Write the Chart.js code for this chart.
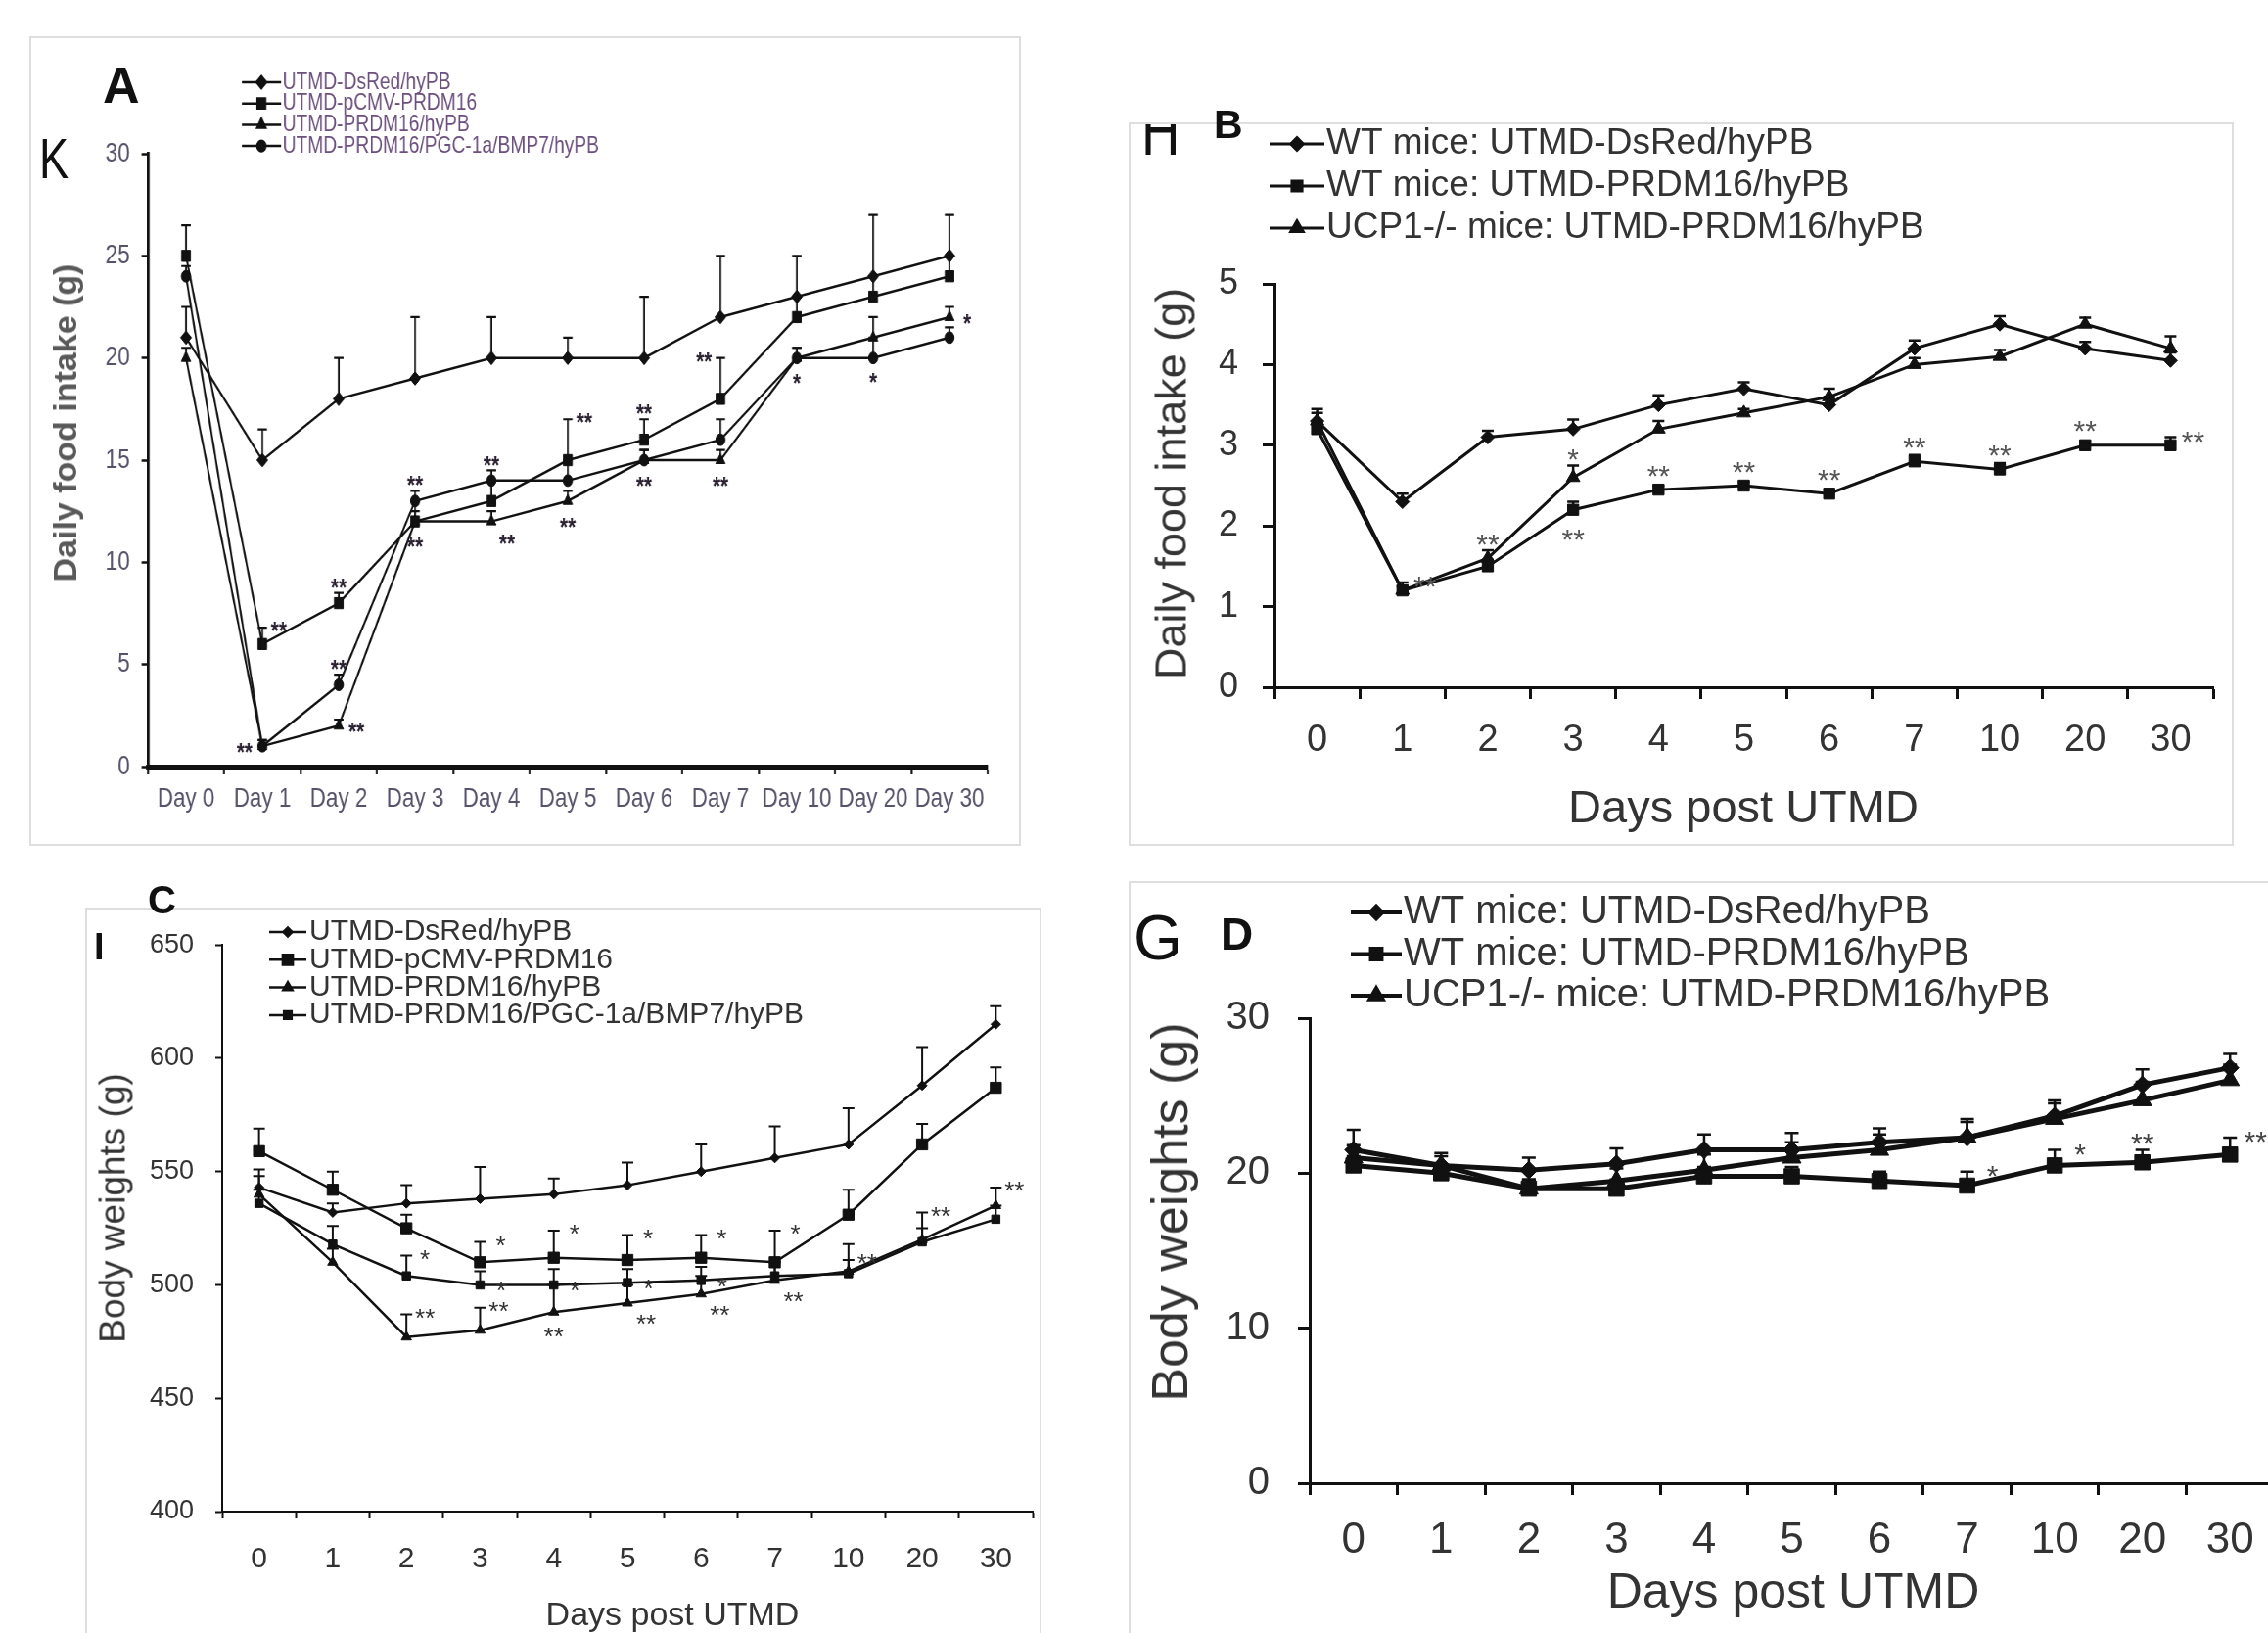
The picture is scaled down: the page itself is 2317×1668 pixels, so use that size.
<!DOCTYPE html>
<html lang="en">
<head>
<meta charset="utf-8">
<title>Daily food intake and body weights after UTMD</title>
<script src="https://cdn.jsdelivr.net/npm/chart.js@4.4.1/dist/chart.umd.min.js"></script>
<style>
  html, body { margin: 0; padding: 0; background: #fff; }
  body { position: relative; width: 2317px; height: 1668px; overflow: hidden; font-family: 'Liberation Sans', Arial, sans-serif; color: #333; }
  .box { position: absolute; border: 2px solid #dedede; box-sizing: border-box; }
  canvas { position: absolute; }
  .txt { position: absolute; white-space: nowrap; line-height: 1; color: #111; }
  .ytitle { position: absolute; white-space: nowrap; line-height: 1; transform: translate(-50%, -50%) rotate(-90deg); }
  .xtitle { position: absolute; white-space: nowrap; line-height: 1; transform: translate(-50%, -50%); }
  .clip { position: absolute; overflow: hidden; }
  .narrow { display: inline-block; transform: scaleX(0.78); transform-origin: left top; }
</style>
</head>
<body>

<!-- cadres des 4 panneaux -->
<div class="box" style="left:30px;top:37px;width:1013px;height:827px"></div>
<div class="box" style="left:1153px;top:125px;width:1129px;height:739px"></div>
<div class="box" style="left:87px;top:927px;width:977px;height:800px"></div>
<div class="box" style="left:1153px;top:900px;width:1300px;height:900px"></div>

<canvas id="chartA"></canvas>
<canvas id="chartB"></canvas>
<canvas id="chartC"></canvas>
<canvas id="chartD"></canvas>

<!-- lettres des panneaux -->
<div class="txt" style="left:105px;top:61px;font-size:52px;font-weight:bold">A</div>
<div class="txt" style="left:40px;top:133px;font-size:58px"><span class="narrow">K</span></div>
<div class="txt" style="left:1240px;top:107px;font-size:41px;font-weight:bold">B</div>
<div class="clip" style="left:1160px;top:127px;width:60px;height:40px">
  <div class="txt" style="left:6px;top:-28px;font-size:70px"><span class="narrow">H</span></div>
</div>
<div class="txt" style="left:151px;top:899px;font-size:40px;font-weight:bold">C</div>
<div class="txt" style="left:96px;top:948px;font-size:38px;font-weight:bold">I</div>
<div class="txt" style="left:1158px;top:926px;font-size:64px">G</div>
<div class="txt" style="left:1247px;top:931px;font-size:46px;font-weight:bold">D</div>

<!-- titres des axes -->
<div class="ytitle" style="left:66px;top:432px;font-size:34px;font-weight:bold;color:#595959">Daily food intake (g)</div>
<div class="ytitle" style="left:1196px;top:494px;font-size:45px;color:#333">Daily food intake (g)</div>
<div class="xtitle" style="left:1781px;top:823px;font-size:47px;color:#333">Days post UTMD</div>
<div class="ytitle" style="left:115px;top:1234px;font-size:37px;color:#333">Body weights (g)</div>
<div class="xtitle" style="left:687px;top:1648px;font-size:34px;color:#333">Days post UTMD</div>
<div class="ytitle" style="left:1195px;top:1238px;font-size:52px;color:#333">Body weights (g)</div>
<div class="xtitle" style="left:1832px;top:1625px;font-size:50px;color:#333">Days post UTMD</div>

<script>
// Catégories (jours)
const daysA = ['Day 0', 'Day 1', 'Day 2', 'Day 3', 'Day 4', 'Day 5', 'Day 6', 'Day 7', 'Day 10', 'Day 20', 'Day 30'];
const days = ['0', '1', '2', '3', '4', '5', '6', '7', '10', '20', '30'];

// Graduations des axes Y
const foodTicksA = [0, 5, 10, 15, 20, 25, 30];
const foodTicksB = [0, 1, 2, 3, 4, 5];
const weightTicksC = [400, 450, 500, 550, 600, 650];
const weightTicksD = [0, 10, 20, 30];

// Légendes
const namesRat = ['UTMD-DsRed/hyPB', 'UTMD-pCMV-PRDM16', 'UTMD-PRDM16/hyPB', 'UTMD-PRDM16/PGC-1a/BMP7/hyPB'];
const namesMice = ['WT mice: UTMD-DsRed/hyPB', 'WT mice: UTMD-PRDM16/hyPB', 'UCP1-/- mice: UTMD-PRDM16/hyPB'];

// A : prise alimentaire quotidienne (g)
const foodDsRed = [21, 15, 18, 19, 20, 20, 20, 22, 23, 24, 25];
const foodPcmv = [25, 6, 8, 12, 13, 15, 16, 18, 22, 23, 24];
const foodPrdm16 = [20, 1, 2, 12, 12, 13, 15, 15, 20, 21, 22];
const foodPgc = [24, 1, 4, 13, 14, 14, 15, 16, 20, 20, 21];
const foodDsRedErr = [1.5, 1.5, 2, 3, 2, 1, 3, 3, 2, 3, 2];
const foodPcmvErr = [1.5, 0.8, 0.5, 1, 1, 2, 1, 2, 1, 1, 1];
const foodPrdm16Err = [0.5, 0.3, 0.3, 0.5, 0.5, 0.5, 0.5, 0.5, 0.5, 1, 0.5];
const foodPgcErr = [0.5, 0.3, 0.5, 0.5, 0.5, 1, 0.5, 1, 0.5, 1, 0.5];
// [série, jour, texte, placement]
const starsA = [
  [2, 1, '**', 'l'], [1, 1, '**', 'ar'], [1, 2, '**', 'a'], [3, 2, '**', 'a'], [2, 2, '**', 'r'],
  [3, 3, '**', 'a'], [2, 3, '**', 'b'], [3, 4, '**', 'a'], [2, 4, '**', 'br'], [1, 5, '**', 'ar'],
  [2, 5, '**', 'b'], [1, 6, '**', 'a'], [2, 6, '**', 'b'], [1, 7, '**', 'al'], [2, 7, '**', 'b'],
  [2, 8, '*', 'b'], [3, 9, '*', 'b'], [2, 10, '*', 'r']
];

// B : prise alimentaire des souris (g)
const miceFoodDsRed = [3.3, 2.3, 3.1, 3.2, 3.5, 3.7, 3.5, 4.2, 4.5, 4.2, 4.05];
const miceFoodPrdm16 = [3.2, 1.2, 1.5, 2.2, 2.45, 2.5, 2.4, 2.8, 2.7, 3.0, 3.0];
const miceFoodUcp1 = [3.3, 1.2, 1.6, 2.6, 3.2, 3.4, 3.6, 4.0, 4.1, 4.5, 4.2];
const miceFoodDsRedErr = [0.15, 0.1, 0.08, 0.12, 0.12, 0.08, 0.1, 0.1, 0.1, 0.08, 0.1];
const miceFoodPrdm16Err = [0.1, 0.1, 0.08, 0.1, 0.05, 0.05, 0.05, 0.08, 0.08, 0.05, 0.1];
const miceFoodUcp1Err = [0.1, 0.05, 0.1, 0.15, 0.1, 0.05, 0.1, 0.08, 0.08, 0.08, 0.15];
const starsB = [
  [1, 1, '**', 'ar'], [2, 2, '**', 'a'], [2, 3, '*', 'a'], [1, 3, '**', 'b'], [1, 4, '**', 'a'],
  [1, 5, '**', 'a'], [1, 6, '**', 'a'], [1, 7, '**', 'a'], [1, 8, '**', 'a'], [1, 9, '**', 'a'],
  [1, 10, '**', 'ar']
];

// C : poids corporel des rats (g)
const weightDsRed = [543, 532, 536, 538, 540, 544, 550, 556, 562, 588, 615];
const weightPcmv = [559, 542, 525, 510, 512, 511, 512, 510, 531, 562, 587];
const weightPrdm16 = [540, 510, 477, 480, 488, 492, 496, 502, 506, 520, 535];
const weightPgc = [536, 518, 504, 500, 500, 501, 502, 504, 505, 519, 529];
const weightDsRedErr = [8, 4, 8, 14, 7, 10, 12, 14, 16, 17, 8];
const weightPcmvErr = [10, 8, 6, 9, 12, 11, 10, 14, 11, 9, 9];
const weightPrdm16Err = [8, 6, 10, 10, 12, 8, 8, 8, 12, 12, 8];
const weightPgcErr = [6, 8, 9, 6, 7, 6, 6, 6, 6, 6, 6];
const starsC = [
  [1, 3, '*', 'ar'], [1, 4, '*', 'ar'], [1, 5, '*', 'ar'], [1, 6, '*', 'ar'], [1, 7, '*', 'ar'],
  [3, 2, '*', 'ar'], [3, 3, '*', 'r'], [3, 4, '*', 'r'], [3, 5, '*', 'r'], [3, 6, '*', 'r'],
  [2, 2, '**', 'ar'], [2, 3, '**', 'ar'], [2, 4, '**', 'b'], [2, 5, '**', 'br'], [2, 6, '**', 'br'],
  [2, 7, '**', 'br'], [3, 8, '**', 'ar'], [2, 9, '**', 'ar'], [2, 10, '**', 'ar']
];

// D : poids corporel des souris (g)
const miceWeightDsRed = [21.5, 20.5, 20.2, 20.6, 21.5, 21.5, 22.0, 22.3, 23.7, 25.7, 26.8];
const miceWeightPrdm16 = [20.5, 20.0, 19.0, 19.0, 19.8, 19.8, 19.5, 19.2, 20.5, 20.7, 21.2];
const miceWeightUcp1 = [21.0, 20.5, 19.0, 19.5, 20.2, 21.0, 21.5, 22.3, 23.5, 24.7, 26.0];
const miceWeightDsRedErr = [1.3, 0.8, 0.8, 1.0, 1.0, 1.1, 0.9, 1.2, 1.0, 1.0, 0.9];
const miceWeightPrdm16Err = [0.6, 0.5, 0.6, 0.6, 0.6, 0.6, 0.6, 0.9, 1.0, 0.8, 1.1];
const miceWeightUcp1Err = [0.8, 0.6, 0.6, 0.8, 1.0, 1.0, 1.0, 1.0, 1.0, 1.2, 1.0];
const starsD = [[1, 7, '*', 'ar'], [1, 8, '*', 'ar'], [1, 9, '**', 'a'], [1, 10, '**', 'ar']];

const SANS = "'Liberation Sans', Arial, sans-serif";

// Plugin : barres d'erreur, astérisques et légende dessinée à la main
const extras = {
  id: 'extras',
  beforeDatasetsDraw(chart, args, opts) {
    const ctx = chart.ctx;
    const ys = chart.scales.y;
    ctx.save();
    ctx.strokeStyle = '#111';
    ctx.lineWidth = opts.errWidth;
    opts.errors.forEach(function(errs, i) {
      const ds = chart.data.datasets[i];
      const meta = chart.getDatasetMeta(i);
      errs.forEach(function(e, j) {
        if (!e) return;
        const x = meta.data[j].x;
        const y0 = ys.getPixelForValue(ds.data[j]);
        const y1 = ys.getPixelForValue(ds.data[j] + e);
        ctx.beginPath();
        ctx.moveTo(x, y0);
        ctx.lineTo(x, y1);
        ctx.moveTo(x - opts.capW, y1);
        ctx.lineTo(x + opts.capW, y1);
        ctx.stroke();
      });
    });
    ctx.restore();
  },
  afterDatasetsDraw(chart, args, opts) {
    const ctx = chart.ctx;
    const ys = chart.scales.y;
    const f = opts.starSize;
    ctx.save();
    ctx.fillStyle = opts.starColor;
    ctx.font = opts.starFont;
    ctx.textAlign = 'center';
    ctx.textBaseline = 'alphabetic';
    opts.stars.forEach(function(st) {
      const si = st[0], ci = st[1], where = st[3];
      const ds = chart.data.datasets[si];
      const pt = chart.getDatasetMeta(si).data[ci];
      const r = ds.pointRadius;
      const err = opts.errors[si][ci] || 0;
      const yTop = Math.min(ys.getPixelForValue(ds.data[ci] + err), pt.y - r);
      let x = pt.x, y = pt.y;
      if (where === 'a') { y = yTop - f * 0.45; }
      else if (where === 'b') { y = pt.y + r + f * 0.5; }
      else if (where === 'l') { x = pt.x - r - f * 0.6; }
      else if (where === 'r') { x = pt.x + r + f * 0.6; }
      else if (where === 'ar') { x = pt.x + r + f * 0.5; y = yTop - f * 0.1; }
      else if (where === 'al') { x = pt.x - r - f * 0.5; y = yTop - f * 0.1; }
      else if (where === 'br') { x = pt.x + r + f * 0.5; y = pt.y + r + f * 0.35; }
      ctx.fillText(st[2], x, y + f * 0.57);
    });
    ctx.restore();
  },
  afterDraw(chart, args, opts) {
    const lg = opts.legend;
    const ctx = chart.ctx;
    ctx.save();
    chart.data.datasets.forEach(function(ds, i) {
      const y = lg.y + i * lg.gap;
      ctx.strokeStyle = '#111';
      ctx.fillStyle = '#111';
      ctx.lineWidth = lg.lineWidth;
      ctx.beginPath();
      ctx.moveTo(lg.x, y);
      ctx.lineTo(lg.x + lg.len, y);
      ctx.stroke();
      Chart.helpers.drawPoint(ctx, { pointStyle: ds.pointStyle, radius: ds.pointRadius * lg.markScale, borderWidth: 1, rotation: 0 }, lg.x + lg.len / 2, y);
      ctx.fillStyle = lg.color;
      ctx.font = lg.font;
      ctx.textAlign = 'left';
      ctx.textBaseline = 'middle';
      ctx.fillText(ds.label, lg.x + lg.len + lg.textGap, y);
    });
    ctx.restore();
  }
};

// Construit un panneau : box = canvas [x, y, w, h], area = zone de tracé [gauche, haut, droite, bas] (pixels de page)
// squeeze < 1 : le canvas est comprimé horizontalement (police étroite du panneau A)
function buildPanel(p) {
  const canvas = document.getElementById(p.id);
  const [bx, by, bw, bh] = p.box;
  const [L, T, R, B] = p.area;
  const sq = p.squeeze || 1;
  canvas.width = Math.round(bw / sq);
  canvas.height = bh;
  canvas.style.left = bx + 'px';
  canvas.style.top = by + 'px';
  canvas.style.width = bw + 'px';
  canvas.style.height = bh + 'px';

  const yWidth = (L - bx) / sq;
  const xHeight = by + bh - B;

  const datasets = p.series.map(function(s) {
    return {
      label: s.label,
      data: s.data,
      borderColor: '#111',
      backgroundColor: '#111',
      borderWidth: p.lineWidth,
      pointStyle: s.style,
      pointRadius: s.radius,
      pointBackgroundColor: '#111',
      pointBorderColor: '#111',
      pointBorderWidth: 1,
      tension: 0,
      clip: false
    };
  });

  return new Chart(canvas, {
    type: 'line',
    data: { labels: p.labels, datasets: datasets },
    options: {
      responsive: false,
      animation: false,
      events: [],
      layout: { padding: { top: T - by, right: (bx + bw - R) / sq, left: 0, bottom: 0 } },
      plugins: {
        legend: { display: false },
        tooltip: { enabled: false },
        extras: {
          errors: p.series.map(function(s) { return s.err; }),
          errWidth: p.errWidth,
          capW: p.capW,
          stars: p.stars,
          starSize: p.starSize,
          starFont: p.starFont,
          starColor: p.starColor,
          legend: {
            x: (p.legend.x - bx) / sq, y: p.legend.y - by, gap: p.legend.gap, len: p.legend.len / sq,
            textGap: p.legend.textGap, font: p.legend.font, color: p.legend.color,
            lineWidth: p.legend.lineWidth, markScale: p.legend.markScale
          }
        }
      },
      scales: {
        x: {
          type: 'category',
          offset: true,
          grid: { offset: true, drawOnChartArea: false, drawTicks: true, tickLength: p.tickLen, tickWidth: p.tickWidth, tickColor: '#111' },
          border: { display: true, color: '#111', width: p.xAxisWidth },
          ticks: { color: p.tickColor, font: { family: SANS, size: p.xFont }, padding: p.xPad, maxRotation: 0, autoSkip: false },
          afterFit: function(s) { s.height = xHeight; }
        },
        y: {
          type: 'linear',
          min: p.yTicks[0],
          max: p.yTicks[p.yTicks.length - 1],
          grid: { drawOnChartArea: false, drawTicks: true, tickLength: p.tickLen, tickWidth: p.tickWidth, tickColor: '#111' },
          border: { display: true, color: '#111', width: p.yAxisWidth },
          ticks: { stepSize: p.yTicks[1] - p.yTicks[0], color: p.tickColor, font: { family: SANS, size: p.yFont }, padding: p.yPad },
          afterFit: function(s) { s.width = yWidth; }
        }
      }
    },
    plugins: [extras]
  });
}

document.addEventListener('DOMContentLoaded', function() {

  // Panneau A (texte étroit)
  buildPanel({
    id: 'chartA', box: [30, 37, 1013, 827], area: [151, 157, 1009, 783], squeeze: 0.8,
    labels: daysA, yTicks: foodTicksA,
    series: [
      { label: namesRat[0], data: foodDsRed, err: foodDsRedErr, style: 'rectRot', radius: 7 },
      { label: namesRat[1], data: foodPcmv, err: foodPcmvErr, style: 'rect', radius: 8 },
      { label: namesRat[2], data: foodPrdm16, err: foodPrdm16Err, style: 'triangle', radius: 7 },
      { label: namesRat[3], data: foodPgc, err: foodPgcErr, style: 'circle', radius: 6 }
    ],
    lineWidth: 2.5, errWidth: 2.2, capW: 6,
    tickColor: '#56526a', xFont: 28, yFont: 28, xPad: 8, yPad: 15,
    tickLen: 8, tickWidth: 2.5, xAxisWidth: 5, yAxisWidth: 3.5,
    stars: starsA, starSize: 26, starFont: 'bold 26px ' + SANS, starColor: '#2a2030',
    legend: { x: 247, y: 84, gap: 21.7, len: 40, textGap: 2, font: '24px ' + SANS, color: '#6b4f7d', lineWidth: 2.5, markScale: 0.9 }
  });

  // Panneau B
  buildPanel({
    id: 'chartB', box: [1153, 125, 1129, 739], area: [1302, 290, 2261, 702],
    labels: days, yTicks: foodTicksB,
    series: [
      { label: namesMice[0], data: miceFoodDsRed, err: miceFoodDsRedErr, style: 'rectRot', radius: 7 },
      { label: namesMice[1], data: miceFoodPrdm16, err: miceFoodPrdm16Err, style: 'rect', radius: 8 },
      { label: namesMice[2], data: miceFoodUcp1, err: miceFoodUcp1Err, style: 'triangle', radius: 8 }
    ],
    lineWidth: 3, errWidth: 2.5, capW: 6,
    tickColor: '#333', xFont: 38, yFont: 36, xPad: 20, yPad: 25,
    tickLen: 12, tickWidth: 3, xAxisWidth: 3, yAxisWidth: 3,
    stars: starsB, starSize: 30, starFont: '30px ' + SANS, starColor: '#555',
    legend: { x: 1297, y: 147, gap: 43, len: 56, textGap: 2, font: '37px ' + SANS, color: '#333', lineWidth: 3, markScale: 0.9 }
  });

  // Panneau C
  buildPanel({
    id: 'chartC', box: [87, 927, 977, 741], area: [227, 965, 1057, 1544],
    labels: days, yTicks: weightTicksC,
    series: [
      { label: namesRat[0], data: weightDsRed, err: weightDsRedErr, style: 'rectRot', radius: 5 },
      { label: namesRat[1], data: weightPcmv, err: weightPcmvErr, style: 'rect', radius: 8 },
      { label: namesRat[2], data: weightPrdm16, err: weightPrdm16Err, style: 'triangle', radius: 6 },
      { label: namesRat[3], data: weightPgc, err: weightPgcErr, style: 'rect', radius: 6 }
    ],
    lineWidth: 2.5, errWidth: 2, capW: 6,
    tickColor: '#333', xFont: 30, yFont: 27, xPad: 24, yPad: 22,
    tickLen: 7, tickWidth: 2, xAxisWidth: 2, yAxisWidth: 2,
    stars: starsC, starSize: 26, starFont: '26px ' + SANS, starColor: '#333',
    legend: { x: 275, y: 952, gap: 28.3, len: 38, textGap: 3, font: '30px ' + SANS, color: '#333', lineWidth: 2.5, markScale: 0.9 }
  });

  // Panneau D
  buildPanel({
    id: 'chartD', box: [1153, 900, 1187, 768], area: [1338, 1040, 2323, 1515],
    labels: days, yTicks: weightTicksD,
    series: [
      { label: namesMice[0], data: miceWeightDsRed, err: miceWeightDsRedErr, style: 'rectRot', radius: 9 },
      { label: namesMice[1], data: miceWeightPrdm16, err: miceWeightPrdm16Err, style: 'rect', radius: 11 },
      { label: namesMice[2], data: miceWeightUcp1, err: miceWeightUcp1Err, style: 'triangle', radius: 11 }
    ],
    lineWidth: 5, errWidth: 2.5, capW: 7,
    tickColor: '#333', xFont: 44, yFont: 40, xPad: 20, yPad: 29,
    tickLen: 12, tickWidth: 3, xAxisWidth: 3, yAxisWidth: 3,
    stars: starsD, starSize: 30, starFont: '30px ' + SANS, starColor: '#444',
    legend: { x: 1380, y: 932, gap: 42.5, len: 52, textGap: 2, font: '40px ' + SANS, color: '#333', lineWidth: 4, markScale: 0.7 }
  });

});
</script>
</body>
</html>
